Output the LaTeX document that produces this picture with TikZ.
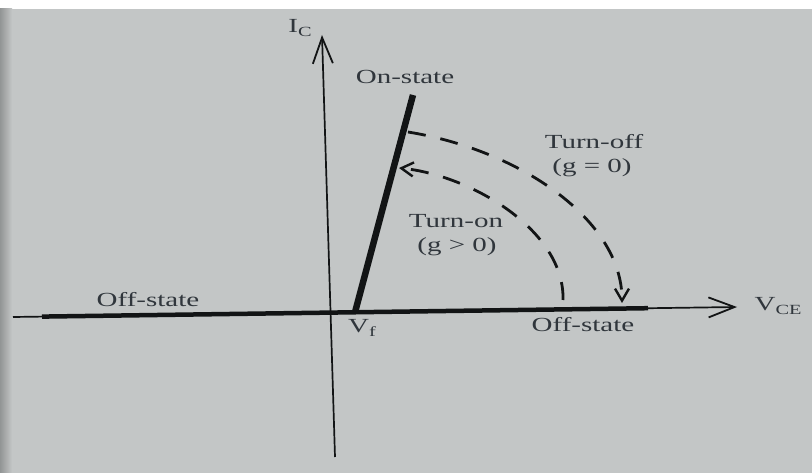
\documentclass[tikz,border=0pt]{standalone}
\usepackage{fontspec}
\setmainfont{Liberation Serif}
\usetikzlibrary{arrows.meta}
\definecolor{bg}{HTML}{C3C6C6}
\definecolor{ink}{HTML}{30363C}
\definecolor{ln}{HTML}{121415}
\newcommand{\wtxt}[1]{\scalebox{1.45}[1]{#1}}
\newcommand{\sbs}[1]{\raisebox{-0.45ex}{\fontsize{14}{14}\selectfont #1}}
\begin{document}
\begin{tikzpicture}[x=1pt,y=-1pt,
  lbl/.style={text=ink,font=\fontsize{20}{22}\selectfont,inner sep=0pt},
  axisline/.style={draw=ln,line width=1.7pt},
  thickline/.style={draw=ln,line width=4.5pt},
  online/.style={draw=ln,line width=6.5pt},
  dsh/.style={draw=ln,line width=2.8pt,dash pattern=on 18pt off 15pt},
  bigtip/.style={-{Straight Barb[length=26pt,width=20pt,line width=1.8pt]}},
  smalltip/.style={-{Straight Barb[length=12pt,width=14pt,line width=2.4pt]}}]
\useasboundingbox (0,0) rectangle (812,473);
\fill[bg] (0,0) rectangle (812,473);
\fill[white] (0,0) rectangle (812,9);
\shade[left color=bg!75!black, right color=bg] (0,9) rectangle (12,473);
% coordinates
\coordinate (vb) at (335,457);
\coordinate (vt) at (322,35);
\coordinate (hl) at (13,317);
\coordinate (hr) at (737,307);
\coordinate (offL) at (42,316.6);
\coordinate (offR) at (648,308.2);
\coordinate (onB) at (355,312.3);
\coordinate (onT) at (413,95);
\coordinate (toS) at (408,132);
\coordinate (toE) at (622,303);
\coordinate (tnS) at (563,300);
\coordinate (tnE) at (399,168);
% axes
\draw[axisline,bigtip] (vb) -- (vt);
\draw[axisline,bigtip] (hl) -- (hr);
\draw[thickline] (offL) -- (offR);
\draw[online] (onB) -- (onT);
% transitions
\draw[dsh,smalltip] (toS) .. controls (520,150) and (622,220) .. (toE);
\draw[dsh,smalltip] (tnS) .. controls (565,230) and (470,175) .. (tnE);
% labels
\node[lbl] (ic) at (300,28) {\wtxt{I\sbs{C}}};
\node[lbl] (onst) at (405,77) {\wtxt{On-state}};
\node[lbl] (toff) at (594,142) {\wtxt{Turn-off}};
\node[lbl] (g0) at (592,168) {\wtxt{(g = 0)}};
\node[lbl] (ton) at (456,221) {\wtxt{Turn-on}};
\node[lbl] (g1) at (457,247) {\wtxt{(g > 0)}};
\node[lbl] (offl) at (148,300) {\wtxt{Off-state}};
\node[lbl] (offr) at (583,325) {\wtxt{Off-state}};
\node[lbl] (vf) at (362,328) {\wtxt{V\sbs{f}}};
\node[lbl] (vce) at (778,306) {\wtxt{V\sbs{CE}}};
\end{tikzpicture}
\end{document}
